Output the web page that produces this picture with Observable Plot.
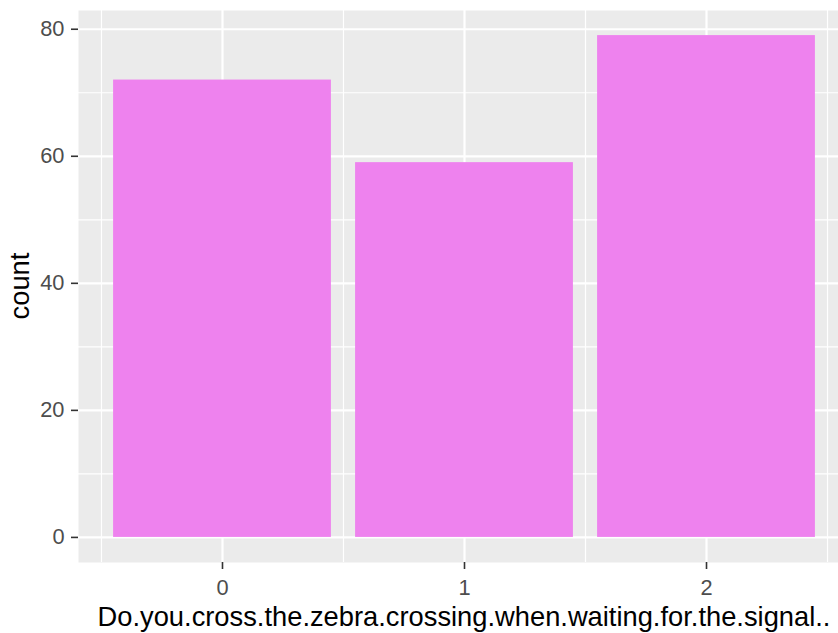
<!DOCTYPE html>
<html>
<head>
<meta charset="utf-8">
<script src="https://cdn.jsdelivr.net/npm/d3@7"></script>
<script src="https://cdn.jsdelivr.net/npm/@observablehq/plot@0.6"></script>
<style>
  html, body { margin: 0; padding: 0; background: #fff; }
  #chart { width: 838px; height: 633px; overflow: hidden; }
</style>
</head>
<body>
<div id="chart"></div>
<script>
const categories = [0, 1, 2];
const counts = [72, 59, 79];
const yTicks = [0, 20, 40, 60, 80];
const yMinor = [10, 30, 50, 70];
const xMinor = [-0.5, 0.5, 1.5, 2.5];
const xLabel = "Do.you.cross.the.zebra.crossing.when.waiting.for.the.signal..";
const yLabel = "count";

const data = categories.map((c, i) => ({cat: c, n: counts[i]}));
const barW = 0.9;
const xPad = (categories[categories.length-1] - categories[0] + barW) * 0.05;
const xDomain = [categories[0] - barW/2 - xPad, categories[categories.length-1] + barW/2 + xPad];
const yMax = d3.max(counts);
const yDomain = [-yMax * 0.05, yMax * 1.05];

const font = "'Liberation Sans', Arial, sans-serif";

const plot = Plot.plot({
  width: 838,
  height: 633,
  marginLeft: 78,
  marginTop: 10,
  marginBottom: 71,
  marginRight: -12,
  style: {fontFamily: font, background: "#fff", overflow: "hidden"},
  x: {domain: xDomain},
  y: {domain: yDomain},
  marks: [
    Plot.frame({fill: "#EBEBEB", stroke: null}),
    Plot.ruleY(yMinor, {stroke: "#fff", strokeWidth: 1.2}),
    Plot.ruleX(xMinor, {stroke: "#fff", strokeWidth: 1.2}),
    Plot.ruleY(yTicks, {stroke: "#fff", strokeWidth: 2.2}),
    Plot.ruleX(categories, {stroke: "#fff", strokeWidth: 2.2}),
    Plot.rectY(data, {x1: d => d.cat - barW/2, x2: d => d.cat + barW/2, y1: 0, y2: "n", fill: "#EE82EE"}),
    Plot.axisY({ticks: yTicks, tickSize: 7, tickPadding: 7, fontSize: 21.8, color: "#4D4D4D", stroke: "#333", strokeWidth: 1.6, label: null, tickFormat: d => String(d)}),
    Plot.axisX({ticks: categories, tickSize: 7, tickPadding: 10, fontSize: 21.8, color: "#4D4D4D", stroke: "#333", strokeWidth: 1.6, label: null, tickFormat: d => String(d)})
  ]
});

const svg = d3.select(plot);
svg.selectAll("g[aria-label='y-axis tick'] path, g[aria-label='x-axis tick'] path").attr("stroke", "#333");
svg.selectAll("g[aria-label='y-axis tick label'], g[aria-label='x-axis tick label']").attr("fill", "#4D4D4D");

svg.append("text")
  .attr("x", (78 + 850) / 2)
  .attr("y", 626)
  .attr("text-anchor", "middle")
  .attr("font-family", font)
  .attr("font-size", 27.3)
  .attr("fill", "#000")
  .text(xLabel);

svg.append("text")
  .attr("transform", `translate(29, ${(10 + 562) / 2}) rotate(-90)`)
  .attr("text-anchor", "middle")
  .attr("font-family", font)
  .attr("font-size", 27.3)
  .attr("fill", "#000")
  .text(yLabel);

document.getElementById("chart").appendChild(plot);
</script>
</body>
</html>
